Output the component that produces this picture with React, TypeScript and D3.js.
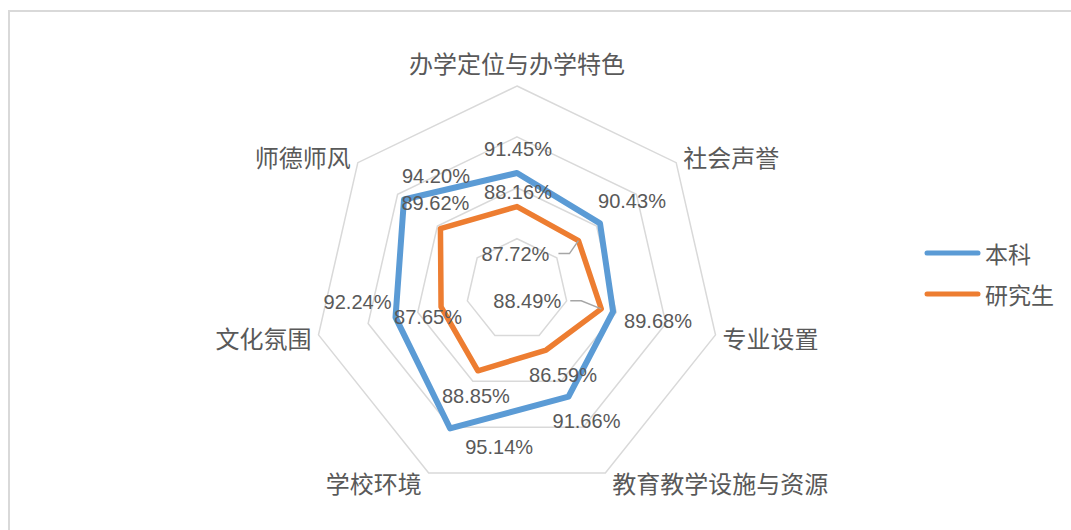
import * as d3 from "d3";

const categories = [
  "办学定位与办学特色",
  "社会声誉",
  "专业设置",
  "教育教学设施与资源",
  "学校环境",
  "文化氛围",
  "师德师风",
];
const undergrad = [91.45, 90.43, 89.68, 91.66, 95.14, 92.24, 94.2];
const graduate = [88.16, 87.72, 88.49, 86.59, 88.85, 87.65, 89.62];
const seriesNames = ["本科", "研究生"];
const ringTicks = [85, 90, 95, 100];

// label offsets relative to each point (placement only)
const undergradLabelOffsets: [number, number][] = [
  [1, -25], [32, -23], [45, 9], [18, 24], [49, 18], [-38, -16], [32, -24],
];
const graduateLabelOffsets: [number, number][] = [
  [1, -15], [-63, 13], [-74, -8], [17, 24], [-2, 25], [-13, 10], [-5, -26],
];
const leaderIdx = [1, 2];

const W = 1071;
const H = 530;
const cx = 517;
const cy = 289.6;
const R = 203.6;
const colors = ["#5B9BD5", "#ED7D31"];
const cjk = "'Noto Sans CJK SC', 'Noto Sans', sans-serif";
const num = "'Liberation Sans', Arial, sans-serif";

export default function App() {
  const n = categories.length;
  const angle = d3
    .scaleLinear()
    .domain([0, n])
    .range([0, 2 * Math.PI]);
  const r = d3.scaleLinear().domain([80, 100]).range([0, R]);

  const pt = (i: number, v: number): [number, number] => {
    const a = angle(i);
    return [cx + r(v) * Math.sin(a), cy - r(v) * Math.cos(a)];
  };

  const closed = d3
    .line<[number, number]>()
    .x((d) => d[0])
    .y((d) => d[1])
    .curve(d3.curveLinearClosed);

  const rings = ringTicks.map((t) => closed(categories.map((_, i) => pt(i, t))));
  const series = [undergrad, graduate];
  const offsets = [undergradLabelOffsets, graduateLabelOffsets];

  return (
    <div style={{ position: "absolute", left: 0, top: 0 }}>
      <svg width={W} height={H} style={{ display: "block", background: "#fff" }}>
        <rect x={9} y={11} width={W + 20} height={H + 20} fill="#fff" stroke="#d9d9d9" strokeWidth={2} />
        {rings.map((d, i) => (
          <path key={i} d={d!} fill="none" stroke="#d9d9d9" strokeWidth={1.5} />
        ))}
        {categories.map((c, i) => {
          const a = angle(i);
          const [vx, vy] = pt(i, 100);
          const s = Math.sin(a);
          const co = Math.cos(a);
          const anchor = Math.abs(s) < 0.1 ? "middle" : s > 0 ? "start" : "end";
          const x = vx + (Math.abs(s) < 0.1 ? 0 : s > 0 ? 7 : -7);
          const y = vy + (co > 0.9 ? -24 : -co * 10);
          return (
            <text key={c} x={x} y={y} textAnchor={anchor} dominantBaseline="central"
              fontFamily={cjk} fontSize={24} fill="#595959">
              {c}
            </text>
          );
        })}
        {series.map((vals, si) => (
          <path key={si} d={closed(vals.map((v, i) => pt(i, v)))!} fill="none"
            stroke={colors[si]} strokeWidth={si === 0 ? 6 : 5.5} strokeLinejoin="round" />
        ))}
        {graduate.map((v, i) => {
          if (!leaderIdx.includes(i)) return null;
          const [px, py] = pt(i, v);
          const lx = px + graduateLabelOffsets[i][0];
          const ly = py + graduateLabelOffsets[i][1];
          return (
            <polyline key={"ld" + i} points={`${lx + 43},${ly} ${lx + 54},${ly} ${px},${py}`}
              fill="none" stroke="#a6a6a6" strokeWidth={1.5} />
          );
        })}
        {series.map((vals, si) =>
          vals.map((v, i) => {
            const [px, py] = pt(i, v);
            const [dx, dy] = offsets[si][i];
            return (
              <text key={si + "-" + i} x={px + dx} y={py + dy} textAnchor="middle"
                dominantBaseline="central" fontFamily={num} fontSize={21} fill="#595959"
                textLength={68} lengthAdjust="spacingAndGlyphs">
                {v.toFixed(2)}%
              </text>
            );
          })
        )}
        {seriesNames.map((s, i) => (
          <g key={s} transform={`translate(0,${253 + i * 41})`}>
            <line x1={927} x2={978} y1={0} y2={0} stroke={colors[i]} strokeWidth={5} strokeLinecap="round" />
            <text x={985} y={0} dominantBaseline="central" fontFamily={cjk} fontSize={23} fill="#595959">
              {s}
            </text>
          </g>
        ))}
      </svg>
    </div>
  );
}
